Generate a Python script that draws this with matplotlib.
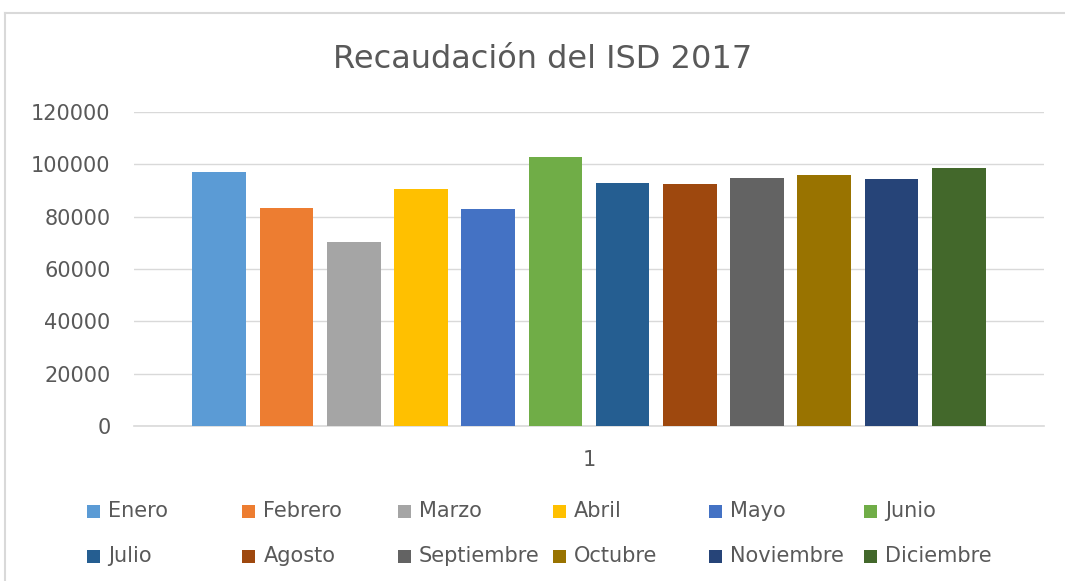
import numpy as np
import matplotlib
matplotlib.use("Agg")
import matplotlib.pyplot as plt
from matplotlib.patches import Rectangle
from matplotlib.lines import Line2D

# Recaudación mensual del ISD 2017
months = ["Enero", "Febrero", "Marzo", "Abril", "Mayo", "Junio",
          "Julio", "Agosto", "Septiembre", "Octubre", "Noviembre", "Diciembre"]
values = [97200, 83500, 70300, 90400, 83000, 102700,
          92900, 92500, 94800, 95900, 94400, 98700]
colors = ["#5B9BD5", "#ED7D31", "#A5A5A5", "#FFC000", "#4472C4", "#70AD47",
          "#255E91", "#9E480E", "#636363", "#997300", "#264478", "#43682B"]
y_ticks = [0, 20000, 40000, 60000, 80000, 100000, 120000]

W, H = 1065, 581
text_color = "#595959"
grid_color = "#d9d9d9"

fig = plt.figure(figsize=(W / 100, H / 100), dpi=100)
ax = fig.add_axes([134 / W, 1 - 426 / H, (1044 - 134) / W, (426 - 112) / H])

x = np.arange(len(months))
ax.bar(x, values, width=0.8, color=colors, zorder=3)

ax.set_ylim(0, 120000)
ax.set_xlim(-1.27, 12.27)
ax.set_yticks(y_ticks)
ax.set_yticklabels([str(v) for v in y_ticks])
ax.set_xticks([5.5])
ax.set_xticklabels(["1"])
ax.tick_params(axis="y", length=0, pad=17, labelsize=15, labelcolor=text_color)
ax.tick_params(axis="x", length=0, pad=17, labelsize=15, labelcolor=text_color)
ax.grid(axis="y", color=grid_color, linewidth=1, zorder=0)
for side in ["top", "right", "left"]:
    ax.spines[side].set_visible(False)
ax.spines["bottom"].set_color(grid_color)
ax.spines["bottom"].set_linewidth(1.2)

# title
fig.text(543 / W, 1 - 60 / H, "Recaudación del ISD 2017", ha="center", va="center",
         fontsize=23, color=text_color)

# legend, Excel style: equal width columns, two rows
for i, (name, c) in enumerate(zip(months, colors)):
    col, row = i % 6, i // 6
    x0 = 87 + col * 155.4
    yc = 511 + row * 45
    fig.add_artist(Rectangle((x0 / W, 1 - (yc + 6.5) / H), 13 / W, 13 / H,
                             transform=fig.transFigure, facecolor=c, edgecolor="none"))
    fig.text((x0 + 21) / W, 1 - yc / H, name, ha="left", va="center",
             fontsize=15, color=text_color)

# chart frame: only top and left edges are visible in the crop
fig.add_artist(Line2D([5 / W, 1.0], [1 - 13 / H, 1 - 13 / H], transform=fig.transFigure,
                      color=grid_color, linewidth=1.5))
fig.add_artist(Line2D([5 / W, 5 / W], [0.0, 1 - 13 / H], transform=fig.transFigure,
                      color=grid_color, linewidth=1.5))

fig.savefig("out.png", dpi=100)
